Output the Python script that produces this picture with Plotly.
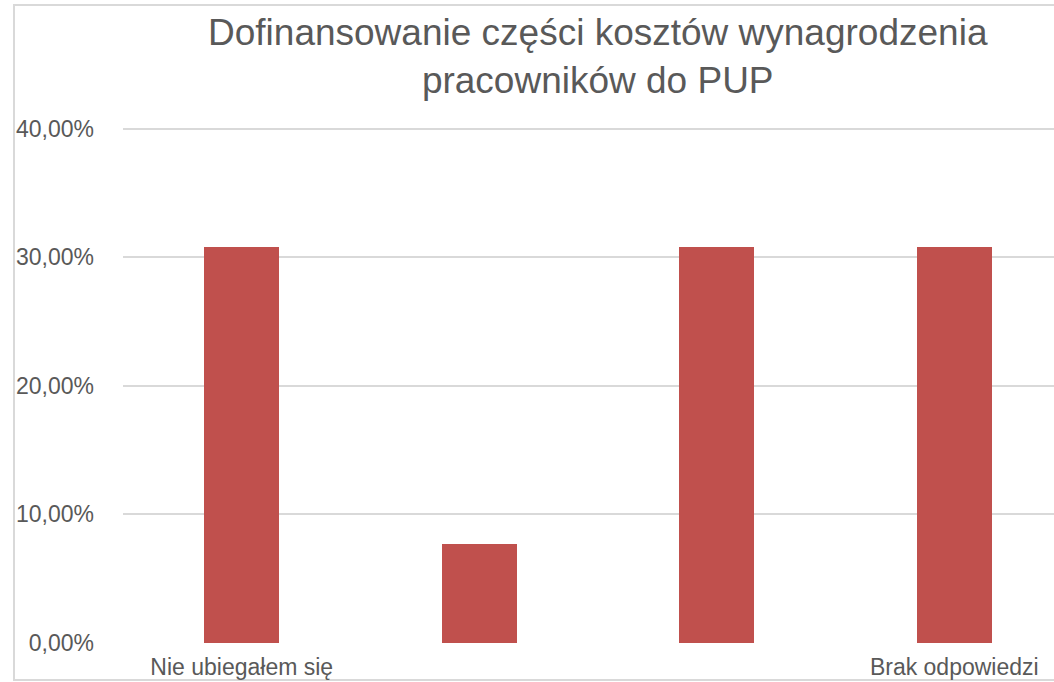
import plotly.graph_objects as go

categories = ["Nie ubiegałem się", "", "", "Brak odpowiedzi"]
values = [0.3077, 0.0769, 0.3077, 0.3077]
ytick_vals = [0.0, 0.1, 0.2, 0.3, 0.4]
ytick_text = ["0,00%", "10,00%", "20,00%", "30,00%", "40,00%"]
title_lines = ["Dofinansowanie części kosztów wynagrodzenia", "pracowników do PUP"]

W, H = 1054, 682
L, R, T, B = 123, 0, 127, 39
plot_w = W - L - R
plot_h = H - T - B
band = 237.5

x_idx = list(range(len(categories)))

fig = go.Figure(
    go.Bar(
        x=x_idx,
        y=values,
        width=0.316,
        marker=dict(color="#C0504D", line=dict(width=0)),
        hoverinfo="y",
    )
)

font_family = "Liberation Sans, Arial, sans-serif"
txt = "#595959"

fig.update_layout(
    width=W,
    height=H,
    margin=dict(l=L, r=R, t=T, b=B, pad=0),
    paper_bgcolor="white",
    plot_bgcolor="white",
    showlegend=False,
    font=dict(family=font_family, color=txt),
    bargap=0,
)

# title as annotation for precise placement
fig.add_annotation(
    text="<br>".join(title_lines),
    xref="paper",
    yref="paper",
    x=(598 - L) / plot_w,
    y=(H - B - 10) / plot_h,
    xanchor="center",
    yanchor="top",
    showarrow=False,
    align="center",
    font=dict(size=37, color=txt, family=font_family),
)

fig.update_xaxes(
    range=[-0.5, -0.5 + plot_w / band],
    tickmode="array",
    tickvals=x_idx,
    ticktext=categories,
    tickfont=dict(size=23, color=txt),
    showgrid=False,
    zeroline=False,
    showline=False,
    ticks="",
    ticklabelstandoff=8,
    fixedrange=True,
)

fig.update_yaxes(
    range=[0, 0.4012],
    tickmode="array",
    tickvals=ytick_vals,
    ticktext=ytick_text,
    tickfont=dict(size=23, color=txt),
    showgrid=True,
    gridcolor="#d9d9d9",
    gridwidth=2,
    zeroline=False,
    showline=False,
    ticks="",
    ticklabelstandoff=28,
    fixedrange=True,
)

# outer chart frame
fig.add_shape(
    type="rect",
    xref="paper",
    yref="paper",
    x0=(14 - L) / plot_w,
    x1=(W + 20 - L) / plot_w,
    y0=(H - B - 680) / plot_h,
    y1=(H - B - 5) / plot_h,
    line=dict(color="#d9d9d9", width=2),
    fillcolor="rgba(0,0,0,0)",
    layer="below",
)

fig.write_html(
    "out.html",
    config={"displayModeBar": False},
    post_script="document.body.style.margin='0px';document.body.style.overflow='hidden';",
)
